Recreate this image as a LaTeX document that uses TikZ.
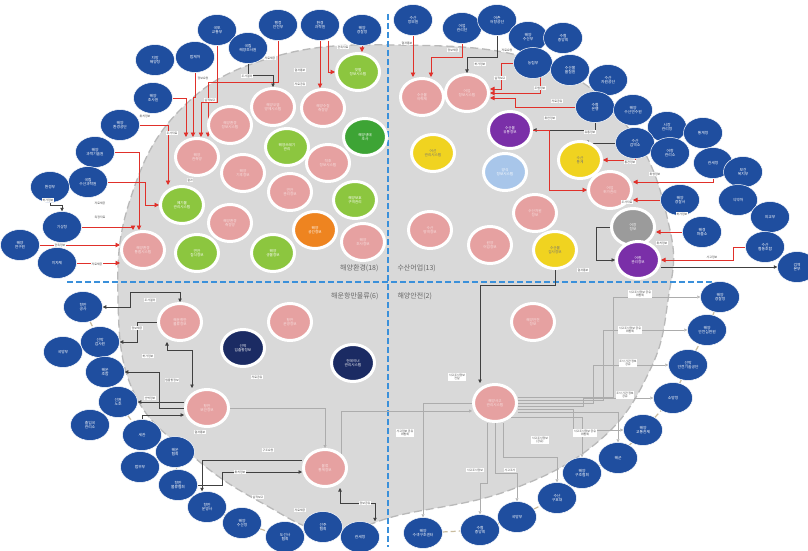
\documentclass[tikz,border=0pt]{standalone}
\usepackage{fontspec}
\setmainfont{Noto Sans CJK KR}
\usetikzlibrary{shapes.geometric,arrows.meta,calc}
\definecolor{agb}{HTML}{1F4E9F}
\definecolor{navyc}{HTML}{1B2B63}
\definecolor{pinkc}{HTML}{E6A1A1}
\definecolor{pinkt}{HTML}{F8E2E2}
\definecolor{grnc}{HTML}{8CC63F}
\definecolor{dgrnc}{HTML}{3DA435}
\definecolor{orc}{HTML}{EE8420}
\definecolor{yelc}{HTML}{F0D320}
\definecolor{purc}{HTML}{7A2FA8}
\definecolor{lbc}{HTML}{A8C6EA}
\definecolor{gyc}{HTML}{9B9B9B}
\definecolor{redc}{HTML}{E0302A}
\definecolor{bgc}{HTML}{D9D9D9}
\definecolor{dashb}{HTML}{3A90DA}
\definecolor{tanc}{HTML}{C9BC9E}
\pgfdeclarelayer{bg}
\pgfsetlayers{bg,main}
\begin{document}
\begin{tikzpicture}[x=1pt,y=-1pt,
 ag/.style={ellipse, fill=agb, draw=white, line width=0.5pt, minimum width=39pt, minimum height=31pt, inner sep=0pt, text=white, font=\fontsize{3.8}{4.3}\selectfont, align=center},
 sysn/.style={ellipse, draw=white, line width=3pt, minimum width=43pt, minimum height=37pt, inner sep=0pt, font=\fontsize{3.6}{4.1}\selectfont, align=center, text=white},
 pk/.style={sysn, fill=pinkc, text=pinkt},
 gn/.style={sysn, fill=grnc},
 dg/.style={sysn, fill=dgrnc},
 og/.style={sysn, fill=orc},
 yl/.style={sysn, fill=yelc, text=black!55},
 pu/.style={sysn, fill=purc},
 lbs/.style={sysn, fill=lbc},
 gy/.style={sysn, fill=gyc},
 nv/.style={sysn, fill=navyc},
 rl/.style={draw=redc, line width=0.9pt, -{Triangle[length=4.5pt,width=4.5pt]}},
 bk/.style={draw=black!75, line width=0.6pt, -{Triangle[length=3.5pt,width=3.5pt]}},
 bkb/.style={draw=black!75, line width=0.6pt, {Triangle[length=3.5pt,width=3.5pt]}-{Triangle[length=3.5pt,width=3.5pt]}},
 gl/.style={draw=gray!65, line width=0.5pt, -{Triangle[length=3pt,width=3pt,open]}},
 chn/.style={draw=tanc, line width=1.2pt, dash pattern=on 5pt off 3pt},
 lbl/.style={fill=white, inner sep=0.7pt, font=\fontsize{2.9}{3.3}\selectfont, text=black!75, align=center},
 qd/.style={font=\fontsize{7}{8}\selectfont, text=black!60},
]
\useasboundingbox (0,0) rectangle (808,551);
\begin{pgfonlayer}{bg}
\fill[white] (0,0) rectangle (808,551);
\draw[gray!55, line width=1.3pt, dash pattern=on 8pt off 4pt, fill=bgc]
  plot[smooth cycle, tension=0.7] coordinates {(395,45) (540,62) (630,130) (670,230) (668,300) (650,370) (600,440) (510,490) (400,515) (330,532) (262,503) (195,458) (135,395) (118,300) (130,200) (180,110) (270,58)};
\draw[dashb, line width=1.8pt, dash pattern=on 6pt off 3pt] (388,14) -- (388,547);
\draw[dashb, line width=1.8pt, dash pattern=on 6pt off 3pt] (67,282) -- (712,282);
\end{pgfonlayer}

% quadrant labels
\node[qd, anchor=east] (q1) at (382,268) {해양환경(18)};
\node[qd, anchor=west] (q2) at (394,268) {수산어업(13)};
\node[qd, anchor=east] (q3) at (382,296) {해운항만물류(6)};
\node[qd, anchor=west] (q4) at (394,296) {해양안전(2)};

% ---------- systems: upper-left (18)
\node[pk] (s1) at (230,125) {해양환경\\정보시스템};
\node[pk] (s2) at (273,107) {해양오염\\방제시스템};
\node[pk] (s3) at (323,108) {해양수질\\측정망};
\node[gn] (s4) at (358,72) {갯벌\\정보시스템};
\node[dg] (s5) at (365,137) {해양생태\\조사};
\node[gn] (s6) at (287,147) {해양쓰레기\\관리};
\node[pk] (s7) at (328,163) {적조\\정보시스템};
\node[pk] (s8) at (197,157) {해양\\관측망};
\node[pk] (s9) at (243,173) {해양\\기후정보};
\node[pk] (s10) at (290,192) {연안\\관리정보};
\node[gn] (s11) at (355,200) {해양보호\\구역관리};
\node[gn] (s12) at (182,205) {폐기물\\관리시스템};
\node[pk] (s13) at (230,223) {해양환경\\측정망};
\node[og] (s14) at (315,230) {해양\\공간정보};
\node[pk] (s15) at (363,242) {해양\\조사정보};
\node[pk] (s16) at (143,250) {해양환경\\통합시스템};
\node[gn] (s17) at (197,253) {연안\\침식정보};
\node[gn] (s18) at (273,253) {해양\\생물정보};

% ---------- systems: upper-right (13)
\node[pk] (t1) at (422,97) {수산물\\이력제};
\node[pk] (t2) at (467,93) {어업\\정보시스템};
\node[pu] (t3) at (510,130) {수산물\\유통정보};
\node[yl] (t4) at (433,153) {어선\\관리시스템};
\node[lbs] (t5) at (505,172) {양식\\정보시스템};
\node[yl] (t6) at (580,160) {수산\\통계};
\node[pk] (t7) at (610,190) {어업\\허가관리};
\node[pk] (t8) at (535,213) {수산자원\\정보};
\node[gy] (t9) at (633,227) {어장\\정보};
\node[pk] (t10) at (430,230) {수산\\방역정보};
\node[pk] (t11) at (490,245) {원양\\어업정보};
\node[yl] (t12) at (555,250) {수산물\\검사정보};
\node[pu] (t13) at (638,260) {어항\\관리정보};

% ---------- systems: lower-left (6)
\node[pk] (u1) at (180,322) {해운항만\\물류정보};
\node[pk] (u2) at (290,322) {항만\\운영정보};
\node[nv] (u3) at (243,348) {선박\\입출항정보};
\node[nv] (u4) at (353,363) {컨테이너\\관리시스템};
\node[pk] (u5) at (207,408) {항만\\보안정보};
\node[pk] (u6) at (325,468) {물류\\통계정보};

% ---------- systems: lower-right (2)
\node[pk] (v1) at (533,322) {해양안전\\정보};
\node[pk] (v2) at (495,403) {해양사고\\관리시스템};

% ---------- agencies: top-left
\node[ag] (b1) at (217,30) {국토\\교통부};
\node[ag] (b2) at (278,25) {행정\\안전부};
\node[ag] (b3) at (320,25) {환경\\과학원};
\node[ag] (b4) at (362,30) {해양\\경찰청};
\node[ag] (b5) at (248,48) {국립\\해양조사원};
\node[ag] (b6) at (155,60) {지방\\해양청};
\node[ag] (b7) at (195,57) {법제처};
\node[ag] (b8) at (153,98) {해양\\조사원};
\node[ag] (b9) at (120,125) {해양\\환경공단};
\node[ag] (b10) at (95,152) {해양\\과학기술원};
\node[ag] (b11) at (88,182) {국립\\수산과학원};
\node[ag] (b12) at (50,187) {환경부};
\node[ag] (b13) at (62,227) {기상청};
\node[ag] (b14) at (20,245) {해양\\연구원};
\node[ag] (b15) at (57,263) {지자체};

% ---------- agencies: top-right
\node[ag] (c1) at (413,20) {수산\\정보원};
\node[ag] (c2) at (462,28) {어업\\관리단};
\node[ag] (c3) at (497,20) {어촌\\어항공단};
\node[ag] (c4) at (528,37) {해양\\수산부};
\node[ag] (c5) at (563,38) {수협\\중앙회};
\node[ag] (c6) at (533,63) {농림부};
\node[ag] (c7) at (570,70) {수산물\\품질원};
\node[ag] (c8) at (608,80) {수산\\자원공단};
\node[ag] (c9) at (595,107) {수협\\은행};
\node[ag] (c10) at (633,110) {해양\\수산연수원};
\node[ag] (c11) at (667,127) {시장\\관리청};
\node[ag] (c12) at (703,133) {통계청};
\node[ag] (c13) at (635,143) {수산\\검역소};
\node[ag] (c14) at (670,153) {어항\\관리소};
\node[ag] (c15) at (713,163) {관세청};
\node[ag] (c16) at (743,172) {보건\\복지부};
\node[ag] (c17) at (680,200) {해양\\경찰서};
\node[ag] (c18) at (738,200) {식약처};
\node[ag] (c19) at (770,217) {외교부};
\node[ag] (c20) at (702,232) {해경\\파출소};
\node[ag] (c21) at (765,247) {수산\\협동조합};
\node[ag] (c22) at (797,267) {검역\\본부};

% ---------- agencies: lower-left
\node[ag] (d1) at (83,307) {항만\\공사};
\node[ag] (d2) at (100,342) {선박\\검사원};
\node[ag] (d3) at (63,352) {국방부};
\node[ag] (d4) at (105,372) {해운\\조합};
\node[ag] (d5) at (118,402) {선원\\노조};
\node[ag] (d6) at (90,425) {출입국\\관리소};
\node[ag] (d7) at (142,435) {세관};
\node[ag] (d8) at (175,452) {해운\\협회};
\node[ag] (d9) at (140,467) {법무부};
\node[ag] (d10) at (178,485) {항만\\물류협회};
\node[ag] (d11) at (207,507) {항만\\운영사};
\node[ag] (d12) at (242,523) {해양\\수산청};
\node[ag] (d13) at (285,537) {도선사\\협회};
\node[ag] (d14) at (323,527) {선주\\협회};
\node[ag] (d15) at (360,537) {관세청};

% ---------- agencies: lower-right
\node[ag] (e1) at (720,297) {해양\\경찰청};
\node[ag] (e2) at (707,330) {해양\\안전심판원};
\node[ag] (e3) at (688,365) {선박\\안전기술공단};
\node[ag] (e4) at (673,398) {소방청};
\node[ag] (e5) at (643,430) {해양\\교통관제};
\node[ag] (e6) at (618,458) {해군};
\node[ag] (e7) at (582,473) {해양\\구조협회};
\node[ag] (e8) at (557,498) {수난\\구호대};
\node[ag] (e9) at (517,517) {국방부};
\node[ag] (e10) at (480,530) {수협\\중앙회};
\node[ag] (e11) at (423,533) {해양\\수색구조센터};

% ---------- small edge labels
\node[lbl] (l1) at (203,78) {정보요청};
\node[lbl] (l2) at (270,58) {자료제공};
\node[lbl] (l3) at (300,70) {결과통보};
\node[lbl] (l4) at (343,47) {관측자료};
\node[lbl] (l5) at (247,76) {조사결과};
\node[lbl] (l6) at (300,84) {자료공유};
\node[lbl] (l7) at (210,100) {실적보고};
\node[lbl] (l8) at (145,116) {위치정보};
\node[lbl] (l9) at (172,133) {조사자료};
\node[lbl] (l10) at (48,200) {허가정보};
\node[lbl] (l11) at (100,203) {자료제공};
\node[lbl] (l12) at (100,217) {측정자료};
\node[lbl] (l13) at (60,245) {관측정보};
\node[lbl] (l14) at (97,264) {자료제공};
\node[lbl] (l15) at (190,180) {결과};
\node[lbl] (u1l) at (407,43) {결과통보};
\node[lbl] (u2l) at (453,50) {정보제공};
\node[lbl] (u3l) at (480,64) {허가정보};
\node[lbl] (u4l) at (507,50) {자료요청};
\node[lbl] (u5l) at (500,78) {실적보고};
\node[lbl] (u6l) at (540,88) {조업정보};
\node[lbl] (u7l) at (557,101) {자료공유};
\node[lbl] (u8l) at (550,118) {위판정보};
\node[lbl] (u9l) at (590,132) {유통정보};
\node[lbl] (u10l) at (630,162) {통관정보};
\node[lbl] (u11l) at (655,174) {위생정보};
\node[lbl] (u12l) at (627,202) {조사자료};
\node[lbl] (u13l) at (682,214) {허가정보};
\node[lbl] (u14l) at (662,243) {위치정보};
\node[lbl] (u15l) at (712,257) {사고정보};
\node[lbl] (u16l) at (583,270) {결과통보};
\node[lbl] (w1) at (150,300) {조사결과};
\node[lbl] (w2) at (137,328) {정보제공};
\node[lbl] (w3) at (148,356) {허가정보};
\node[lbl] (w4) at (172,380) {입출항정보};
\node[lbl] (w5) at (150,398) {선박정보};
\node[lbl] (w6) at (200,432) {결과통보};
\node[lbl] (w7) at (257,377) {자료공유};
\node[lbl] (w8) at (268,450) {구조요청};
\node[lbl] (w9) at (240,472) {위치정보};
\node[lbl] (w10) at (258,497) {실적보고};
\node[lbl] (w11) at (300,510) {자료제공};
\node[lbl] (w12) at (365,503) {정보공유};
\node[lbl] (x1) at (640,294) {사고조사정보 공유\\위원회};
\node[lbl] (x2) at (630,330) {사고조사정보 공유\\위원회};
\node[lbl] (x3) at (628,363) {조사 기관 정보\\공유};
\node[lbl] (x4) at (625,395) {조사 기관 정보\\공유};
\node[lbl] (x5) at (585,433) {사고조사정보 공유\\위원회};
\node[lbl] (x6) at (540,440) {사고조사정보\\(공유)};
\node[lbl] (x7) at (475,470) {사고조사정보};
\node[lbl] (x8) at (510,470) {사고조사};
\node[lbl] (x9) at (457,377) {사고조사정보\\전달};
\node[lbl] (x10) at (405,433) {사고정보 공유\\위원회};

% ---------- connectors
\begin{pgfonlayer}{bg}
% chains along the rim
\draw[chn] (d1) -- (d2) -- (d4) -- (d5) -- (d7) -- (d8) -- (d10) -- (d11) -- (d12) -- (d13) -- (d14) -- (d15);
\draw[chn] (e11) -- (e10) -- (e9) -- (e8) -- (e7) -- (e6) -- (e5) -- (e4) -- (e3) -- (e2) -- (e1);
% upper-left (red)
\draw[rl] (b1.south) |- ($(s8.north)+(4,-35)$) -- ([xshift=4pt]s8.north);
\draw[rl] (b7.south) |- ($(s8.north)+(-4,-40)$) -- ([xshift=-4pt]s8.north);
\draw[rl] (b8.east) -| ([xshift=-11pt]s8.north);
\draw[rl] (b2.south) |- ($(s8.north)+(11,-55)$) -- ([xshift=11pt]s8.north);
\draw[rl] (b3.south) -- (b3.south |- s3.north);
\draw[rl] ([xshift=8pt]b3.south) |- (s4.west);
\draw[rl] (b4.south) -- (b4.south |- s4.north);
\draw[bk] (b5.south) |- ($(s2.north)+(0,-12)$) -- (s2.north);
\draw[rl] (b9.east) -| ([xshift=-14pt]s12.north);
\draw[rl] (b10.east) -| ([xshift=-4pt]s16.north);
\draw[rl] (b11.east) -| ($(s12.west)+(-14,0)$) -- (s12.west);
\draw[rl] (b13.east) -| ([xshift=-10pt]s16.north);
\draw[rl] (b14.east) -- (b14.east -| s16.west);
\draw[rl] (b15.east) -- (b15.east -| s16.west);
\draw[bk] (b12.south) |- ($(b13.north)+(0,-6)$) -- (b13.north);
% upper-right
\draw[rl] (c1.south) -- ([xshift=-9pt]t1.north);
\draw[rl] (c2.south) |- ($(t1.north)+(9,-20)$) -- ([xshift=9pt]t1.north);
\draw[bk] (c3.south) |- ($(t2.north)+(0,-16)$) -- (t2.north);
\draw[rl] (c6.west) -- ++(-12,0) |- ([yshift=4pt]t2.east);
\draw[rl] (c7.west) -- ++(-10,0) |- (t2.east);
\draw[rl] (c9.west) -- ++(-60,0) |- ([yshift=-5pt]t2.east);
\draw[bk] (c9.south) |- (t3.east);
\draw[bk] (c13.west) -| ([xshift=8pt]t6.north);
\draw[rl] (c14.west) -- ++(-15,0) |- (t6.east);
\draw[rl] (c15.south) |- ([yshift=8pt]t7.east);
\draw[rl] (c17.west) -- (c17.west -| t7.east);
\draw[rl] (c20.west) -- (c20.west -| t9.east);
\draw[rl] (c21.west) -- ++(-12,0) |- (t13.east);
\draw[bk] (t13.east |- c22.west) -- (c22.west);
\draw[bk] (t9.west) -- ++(-14,0) |- (t13.west);
\draw[rl] (t3.east) -| ($(t7.west)+(-38,0)$) -- (t7.west);
\draw[bk] (t12.south) |- ($(v2.north)+(-15,-98)$) -- ([xshift=-15pt]v2.north);
% lower-left
\draw[bkb] (d1.east) -- ++(28,0) |- ($(u1.north)+(0,-10)$) -- (u1.north);
\draw[bkb] ([xshift=-13pt]u1.south) |- ($(u5.north)+(-15,-38)$) -- ([xshift=-15pt]u5.north);
\draw[bk] (u1.west) -- ++(-20,0) |- (d2.east);
\draw[bk] (u5.west) -- ++(-25,0) |- (d4.east);
\draw[bk] ([yshift=6pt]u5.west) -- (d5.east);
\draw[bk] (d7.north) |- ([yshift=-7pt]u5.west);
\draw[bk] (d10.east) -- ++(25,0) |- ([yshift=-4pt]u6.west);
\draw[bk] ([yshift=8pt]u6.west) -| ([xshift=-5pt]d11.north);
\draw[bkb] ([xshift=15pt]u6.south) |- ($(d15.north)+(15,-18)$) -- ([xshift=15pt]d15.north);
\draw[gl] (u5.east) -| (u6.north);
\draw[gl] (u6.north east) |- ([yshift=-8pt]v2.west);
% lower-right
\draw[gl] ([yshift=6pt]v2.east) -- ++(95,0) |- (e1.west);
\draw[gl] ([yshift=3pt]v2.east) -- ++(85,0) |- (e2.west);
\draw[gl] (v2.east) -- ++(75,0) |- (e3.west);
\draw[gl] ([yshift=-3pt]v2.east) -- ++(65,0) |- (e4.west);
\draw[gl] ([yshift=-6pt]v2.east) -- ++(55,0) |- (e5.west);
\draw[gl] ([yshift=-9pt]v2.east) -| (e6.north);
\draw[gl] (v2.south east) -| (e7.north);
\draw[gl] ([xshift=8pt]v2.south) |- ($(e8.north)+(0,-25)$) -- (e8.north);
\draw[gl] (v2.south) -- ++(0,50) -| (e9.north);
\draw[gl] ([xshift=-8pt]v2.south) -- ++(0,60) -| (e10.north);
\draw[gl] (v2.west) -| (e11.north);
\end{pgfonlayer}
\end{tikzpicture}
\end{document}
